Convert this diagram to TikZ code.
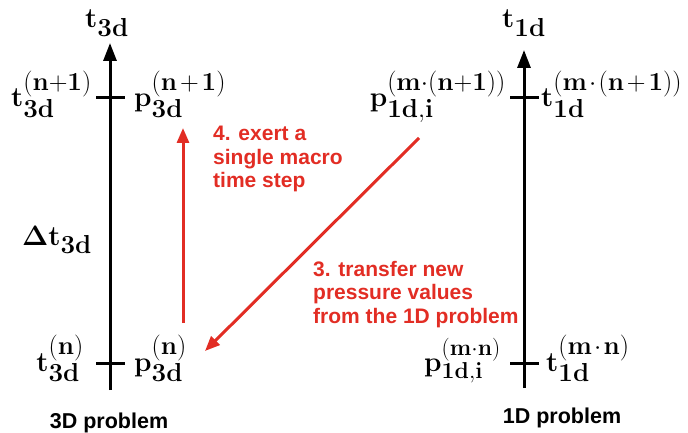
\RequirePackage{fix-cm}
\documentclass[tikz,border=0pt]{standalone}
\usepackage[no-math]{fontspec}
\newfontfamily\labfont{Liberation Sans}
\usetikzlibrary{arrows.meta}
\definecolor{myred}{RGB}{226,45,36}
\newcommand\smb[1]{\mbox{\fontsize{26}{28}\selectfont$\mathbf{#1}$}}
\newcommand\smc[1]{\mbox{\fontsize{23}{25}\selectfont$\mathbf{#1}$}}
\newcommand\bplus{\mkern2mu{+}\mkern2mu}
\newcommand\bdot{\mkern1.5mu{\cdot}\mkern1.5mu}
\begin{document}
\begin{tikzpicture}[x=1pt,y=-1pt,
  axis/.style={line width=3pt,-{Triangle[length=18pt,width=13pt]}},
  tickline/.style={line width=3pt},
  redarr/.style={line width=3pt,draw=myred,-{Triangle[length=15pt,width=12pt]}},
  mlab/.style={inner sep=0pt,font=\fontsize{28}{32}\selectfont},
  rtext/.style={inner sep=0pt,align=left,text=myred,font=\labfont\bfseries\fontsize{21}{23.5}\selectfont},
  btext/.style={inner sep=0pt,text=black,font=\labfont\bfseries\fontsize{21.5}{25}\selectfont}]
\useasboundingbox (0,0) rectangle (688,433);
% left axis
\coordinate (L0) at (110,390);
\coordinate (L1) at (110,43);
\draw[axis] (L0) -- (L1);
\coordinate (LTa) at (96,98);  \coordinate (LTb) at (125,98);
\coordinate (LBa) at (96,363); \coordinate (LBb) at (125,363);
\draw[tickline] (LTa) -- (LTb);
\draw[tickline] (LBa) -- (LBb);
% right axis
\coordinate (R0) at (524,388);
\coordinate (R1) at (524,50);
\draw[axis] (R0) -- (R1);
\coordinate (RTa) at (510,98);  \coordinate (RTb) at (539,98);
\coordinate (RBa) at (510,363); \coordinate (RBb) at (539,363);
\draw[tickline] (RTa) -- (RTb);
\draw[tickline] (RBa) -- (RBb);
% math labels
\node[mlab,anchor=base west] (t3d) at (85,28) {$\mathbf{t}_{\smb{3d}}$};
\node[mlab,anchor=base west] (t1d) at (502,28) {$\mathbf{t}_{\smb{1d}}$};
\node[mlab,anchor=base east] (t3dn1) at (92,107) {$\mathbf{t}_{\smb{3d}}^{\smb{(n{+}1)}}$};
\node[mlab,anchor=base west] (p3dn1) at (134,107) {$\mathbf{p}_{\smb{3d}}^{\smb{(n\bplus 1)}}$};
\node[mlab,anchor=base east] (t3dn) at (84,371) {$\mathbf{t}_{\smb{3d}}^{\smb{(n)}}$};
\node[mlab,anchor=base west] (p3dn) at (134,371) {$\mathbf{p}_{\smb{3d}}^{\smb{(n)}}$};
\node[mlab,anchor=base] (dt) at (57,245) {$\mathbf{\Delta t}_{\smb{3d}}$};
\node[mlab,anchor=base east] (p1dmn1) at (506,107) {$\mathbf{p}_{\smb{1d{,}i}}^{\smb{(m{\cdot}(n{+}1))}}$};
\node[mlab,anchor=base west] (t1dmn1) at (541,107) {$\mathbf{t}_{\smb{1d}}^{\smb{(m\bdot(n\bplus 1))}}$};
\node[mlab,anchor=base east] (p1dmn) at (501,371) {$\mathbf{p}_{\smc{1d{,}i}}^{\smc{(m{\cdot}n)}}$};
\node[mlab,anchor=base west] (t1dmn) at (546,371) {$\mathbf{t}_{\smb{1d}}^{\smb{(m\bdot n)}}$};
% red arrows
\coordinate (A4s) at (183,323);
\coordinate (A4e) at (183,128);
\draw[redarr] (A4s) -- (A4e);
\coordinate (A3s) at (419,138);
\coordinate (A3e) at (205,351);
\draw[redarr] (A3s) -- (A3e);
% red texts
\node[rtext,anchor=north west] (s4) at (213,126) {4. exert a\\single macro\\time step};
\node[rtext,anchor=north west] (s3) at (313,261) {3. transfer new\\pressure values\\from the 1D problem};
% captions
\node[btext,anchor=base] (c3) at (109,428) {3D problem};
\node[btext,anchor=base] (c1) at (562,423) {1D problem};
\end{tikzpicture}
\end{document}
